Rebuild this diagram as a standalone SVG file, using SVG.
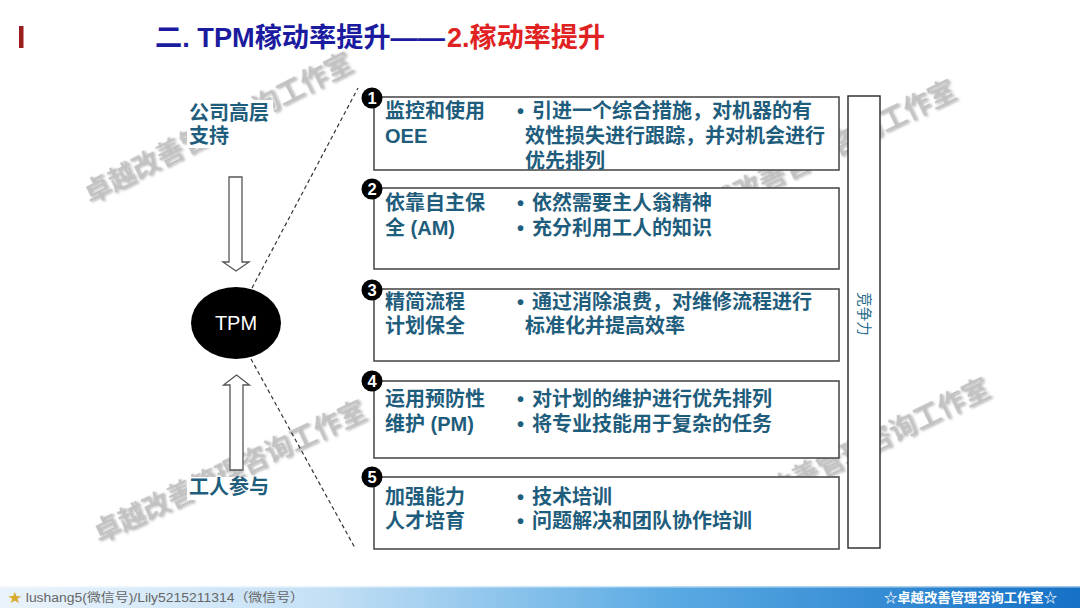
<svg xmlns="http://www.w3.org/2000/svg" width="1080" height="608" viewBox="0 0 1080 608">
<defs>
<linearGradient id="band" x1="0" y1="0" x2="1" y2="0">
<stop offset="0" stop-color="#eaf3fb"/>
<stop offset="0.3" stop-color="#c4e0f5"/>
<stop offset="0.62" stop-color="#5aaae3"/>
<stop offset="1" stop-color="#1571c6"/>
</linearGradient>
<filter id="wmShadow" x="-10%" y="-10%" width="120%" height="130%">
<feDropShadow dx="1.2" dy="1.5" stdDeviation="0.8" flood-color="#777" flood-opacity="0.6"/>
</filter>
<style>
.cjk{font-family:"Liberation Sans","Noto Sans CJK SC",sans-serif;}
.wm{font-family:"Noto Sans CJK SC",sans-serif;font-size:27px;fill:#c2c2c2;font-weight:500;filter:url(#wmShadow);}
.lbl{font-family:"Liberation Sans","Noto Sans CJK SC",sans-serif;font-size:20px;font-weight:700;fill:#1f5d7c;}
.box{fill:#ffffff;stroke:#4d4d4d;stroke-width:1.6;}
.num{fill:#000;}
.numt{font-family:"Liberation Sans","Noto Sans CJK SC",sans-serif;font-size:16.5px;font-weight:700;fill:#fff;text-anchor:middle;}
.dash{fill:none;stroke:#333;stroke-width:1.2;stroke-dasharray:4 3;}
.harrow{fill:#fff;stroke:#555;stroke-width:1.3;}
</style>
</defs>
<rect width="1080" height="608" fill="#ffffff"/>

<g id="watermarks">
<text class="wm" transform="translate(90,204) rotate(-27)">卓越改善管理咨询工作室</text>
<text class="wm" transform="translate(691,227) rotate(-26)">卓越改善管理咨询工作室</text>
<text class="wm" transform="translate(99,543) rotate(-25)">卓越改善管理咨询工作室</text>
<text class="wm" transform="translate(725,525) rotate(-26)">卓越改善管理咨询工作室</text>
</g>

<g id="title">
<rect x="19" y="26" width="4.5" height="22" fill="#9b1c1c"/>
<text class="cjk" x="155" y="47" font-size="27.5" font-weight="700" fill="#1b1ba0" textLength="290" lengthAdjust="spacingAndGlyphs">二. TPM稼动率提升——</text>
<text class="cjk" x="447" y="47" font-size="27.5" font-weight="700" fill="#e02222" textLength="158" lengthAdjust="spacingAndGlyphs">2.稼动率提升</text>
</g>

<g id="connectors">
<line class="dash" x1="252" y1="288" x2="358" y2="88"/>
<line class="dash" x1="251" y1="359" x2="355" y2="548"/>
<path class="harrow" d="M229,177 H242 V262 H249 L236,271 L223,262 H229 Z"/>
<path class="harrow" d="M236.5,375 L249.5,385 H243 V470 H230 V385 H223.5 Z"/>
</g>

<g id="node-support">
<rect x="187" y="100" width="86" height="48" fill="#fff"/>
<text class="lbl" x="189" y="120">公司高层</text>
<text class="lbl" x="189" y="143">支持</text>
</g>

<g id="node-tpm">
<ellipse cx="236" cy="323" rx="45" ry="36" fill="#000"/>
<text x="236" y="330" font-family="Liberation Sans, sans-serif" font-size="20" fill="#fff" text-anchor="middle">TPM</text>
</g>

<g id="node-workers">
<rect x="187" y="477" width="86" height="23" fill="#fff"/>
<text class="lbl" x="189" y="494">工人参与</text>
</g>

<g id="box-1">
<rect class="box" x="374" y="97" width="465" height="73"/>
<circle class="num" cx="372" cy="98" r="10.5"/>
<text class="numt" x="372" y="104">1</text>
<text class="lbl" x="385" y="118">监控和使用</text>
<text class="lbl" x="385" y="143">OEE</text>
<text class="lbl" x="517" y="118">•</text>
<text class="lbl" x="532" y="118">引进一个综合措施，对机器的有</text>
<text class="lbl" x="525" y="143">效性损失进行跟踪，并对机会进行</text>
<text class="lbl" x="525" y="168">优先排列</text>
</g>

<g id="box-2">
<rect class="box" x="374" y="188" width="465" height="81"/>
<circle class="num" cx="372" cy="189" r="10.5"/>
<text class="numt" x="372" y="195">2</text>
<text class="lbl" x="385" y="210">依靠自主保</text>
<text class="lbl" x="385" y="235">全 (AM)</text>
<text class="lbl" x="517" y="210">•</text>
<text class="lbl" x="532" y="210">依然需要主人翁精神</text>
<text class="lbl" x="517" y="235">•</text>
<text class="lbl" x="532" y="235">充分利用工人的知识</text>
</g>

<g id="box-3">
<rect class="box" x="374" y="289" width="465" height="72"/>
<circle class="num" cx="372" cy="290" r="10.5"/>
<text class="numt" x="372" y="296">3</text>
<text class="lbl" x="385" y="309">精简流程</text>
<text class="lbl" x="385" y="333">计划保全</text>
<text class="lbl" x="517" y="309">•</text>
<text class="lbl" x="532" y="309">通过消除浪费，对维修流程进行</text>
<text class="lbl" x="525" y="333">标准化并提高效率</text>
</g>

<g id="box-4">
<rect class="box" x="374" y="381" width="465" height="77"/>
<circle class="num" cx="372" cy="381" r="10.5"/>
<text class="numt" x="372" y="387">4</text>
<text class="lbl" x="385" y="406">运用预防性</text>
<text class="lbl" x="385" y="431">维护 (PM)</text>
<text class="lbl" x="517" y="406">•</text>
<text class="lbl" x="532" y="406">对计划的维护进行优先排列</text>
<text class="lbl" x="517" y="431">•</text>
<text class="lbl" x="532" y="431">将专业技能用于复杂的任务</text>
</g>

<g id="box-5">
<rect class="box" x="374" y="477" width="465" height="72"/>
<circle class="num" cx="372" cy="477" r="10.5"/>
<text class="numt" x="372" y="483">5</text>
<text class="lbl" x="385" y="504">加强能力</text>
<text class="lbl" x="385" y="528">人才培育</text>
<text class="lbl" x="517" y="504">•</text>
<text class="lbl" x="532" y="504">技术培训</text>
<text class="lbl" x="517" y="528">•</text>
<text class="lbl" x="532" y="528">问题解决和团队协作培训</text>
</g>

<g id="competitiveness">
<rect x="848" y="96" width="32" height="452" fill="#fff" stroke="#333" stroke-width="1.5"/>
<text class="cjk" transform="translate(864,314) rotate(90)" font-size="14.5" fill="#1f6a8a" text-anchor="middle" dominant-baseline="central">竞争力</text>
</g>

<g id="footer">
<rect x="0" y="586" width="1080" height="22" fill="url(#band)"/>
<rect x="0" y="586" width="1080" height="1.5" fill="#ffffff" opacity="0.6"/>
<text class="cjk" x="8" y="602" font-size="12.5" fill="#666" textLength="296" lengthAdjust="spacingAndGlyphs"><tspan fill="#d8a92a">★</tspan> lushang5(微信号)/Lily5215211314（微信号）</text>
<text class="cjk" x="884" y="602" font-size="13" font-weight="700" fill="#fff" textLength="173" lengthAdjust="spacingAndGlyphs">☆卓越改善管理咨询工作室☆</text>
</g>
</svg>
